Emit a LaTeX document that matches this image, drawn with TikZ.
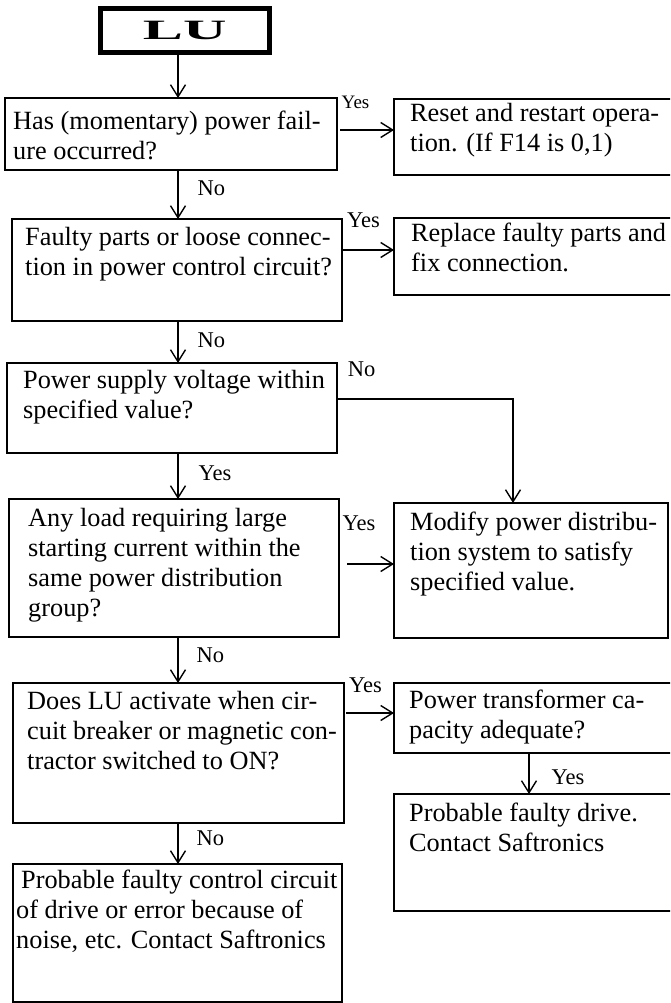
\documentclass[tikz,border=0pt]{standalone}
\usepackage{fontspec}
\setmainfont{Liberation Serif}
\usepackage{graphicx}
\usetikzlibrary{positioning, arrows.meta, calc}

\newcommand{\bodyfont}{\fontsize{26.3}{30}\selectfont}
\newcommand{\lblfont}{\fontsize{22.5}{25}\selectfont}
\newcommand{\smlblfont}{\fontsize{19}{21}\selectfont}

\tikzset{
  lubox/.style={
    draw, line width=5pt, minimum width=169.5pt, minimum height=43.5pt,
    inner sep=0pt, outer sep=0pt, font=\fontsize{28}{28}\selectfont\bfseries
  },
  stepbox/.style 2 args={
    draw, line width=1.5pt, minimum width=#1pt, minimum height=#2pt,
    inner sep=0pt, outer sep=0pt, anchor=north west
  },
  boxtext/.style={
    anchor=north west, align=left, inner xsep=#1pt, inner ysep=6pt,
    font=\bodyfont, execute at begin node=\strut
  },
  boxtext/.default=15,
  arr/.style={
    line width=1.4pt, -{Straight Barb[length=12pt, width=15pt]}
  },
  lbl/.style={font=\lblfont, inner sep=0pt},
  smlbl/.style={font=\smlblfont, inner sep=0pt},
}

\begin{document}
\begin{tikzpicture}[x=1pt, y=1pt]
\useasboundingbox (0,0) rectangle (670,-1003);
\clip (0,0) rectangle (670,-1003);

% ---- Start ----
\node[lubox] (lu) at (184.75,-30.75) {\scalebox{2.15}[1]{LU}};
\coordinate (trunk) at (178,0);

% ---- Left column: checks ----
\node[stepbox={332}{72},
      label={[boxtext=8, yshift=-7pt]north west:Has (momentary) power fail-\\ure occurred?}]
  (q1) at (5,-98) {};
\node[stepbox={330}{102}, below=49pt of q1.south west, anchor=north west, xshift=7pt,
      label={[boxtext=13, yshift=-2pt]north west:Faulty parts or loose connec-\\tion in power control circuit?}]
  (q2) {};
\node[stepbox={330}{90}, below=42pt of q2.south west, anchor=north west, xshift=-5pt,
      label={[boxtext=16, yshift=-1pt]north west:Power supply voltage within\\specified value?}]
  (q3) {};
\node[stepbox={330}{138}, below=46pt of q3.south west, anchor=north west, xshift=2pt,
      label={[boxtext=19, yshift=-3pt]north west:Any load requiring large\\starting current within the\\same power distribution\\group?}]
  (q4) {};
\node[stepbox={331}{140}, below=46pt of q4.south west, anchor=north west, xshift=4pt,
      label={[boxtext=14, yshift=-2pt]north west:Does LU activate when cir-\\cuit breaker or magnetic con-\\tractor switched to ON?}]
  (q5) {};
\node[stepbox={329}{138}, below=41pt of q5.south west, anchor=north west,
      label={[boxtext=3]north west:\hspace{5pt}Probable faulty control circuit\\of drive or error because of\\noise, etc. Contact Saftronics}]
  (q6) {};

% ---- Right column: actions ----
\node[stepbox={280}{76}, right=57pt of q1.north east, anchor=north west, yshift=-1pt,
      label={[boxtext=16, yshift=2pt]north west:Reset and restart opera-\\tion. (If F14 is 0,1)}]
  (r1) {};
\node[stepbox={280}{77}, right=52pt of q2.north east, anchor=north west, yshift=1pt,
      label={[boxtext=17, yshift=1pt]north west:Replace faulty parts and\\fix connection.}]
  (r2) {};
\node[stepbox={274}{135}, right=55pt of q4.north east, anchor=north west, yshift=-4pt,
      label={[boxtext=16, yshift=-3pt]north west:Modify power distribu-\\tion system to satisfy\\specified value.}]
  (r3) {};
\node[stepbox={280}{70}, right=50pt of q5.north east, anchor=north west,
      label={[boxtext=15, yshift=-1pt]north west:Power transformer ca-\\pacity adequate?}]
  (r4) {};
\node[stepbox={280}{117}, below=41pt of r4.south west, anchor=north west,
      label={[boxtext=15, yshift=-3pt]north west:Probable faulty drive.\\Contact Saftronics}]
  (r5) {};

% ---- No branches (down the trunk) ----
\draw[arr] (lu.south -| trunk) -- (q1.north -| trunk);
\draw[arr] (q1.south -| trunk) -- node[lbl, pos=0.38, right=19pt] (no1) {No} (q2.north -| trunk);
\draw[arr] (q2.south -| trunk) -- node[lbl, pos=0.45, right=19pt] (no2) {No} (q3.north -| trunk);
\draw[arr] (q3.south -| trunk) -- node[lbl, pos=0.45, right=20pt] (yes3) {Yes} (q4.north -| trunk);
\draw[arr] (q4.south -| trunk) -- node[lbl, pos=0.4, right=18pt] (no4) {No} (q5.north -| trunk);
\draw[arr] (q5.south -| trunk) -- node[lbl, pos=0.37, right=18pt] (no5) {No} (q6.north -| trunk);

% ---- Yes branches (to the right) ----
\coordinate (a1) at ([xshift=3pt, yshift=4pt]q1.east);
\draw[arr] (a1) -- (a1 -| r1.west);
\node[smlbl] (yes1) at ($(q1.north east)+(18.5,-4)$) {Yes};

\coordinate (a2) at ([yshift=20pt]q2.east);
\draw[arr] (a2) -- (a2 -| r2.west);
\node[lbl] (yes2) at ($(q2.north east)+(21.5,-1)$) {Yes};

\coordinate (a3) at ([yshift=9pt]q3.east);
\draw[arr] (a3) -| ([xshift=-18pt]r3.north);
\node[lbl] (no3) at ($(q3.north east)+(24.5,-6)$) {No};

\coordinate (a4) at ([xshift=8pt, yshift=4pt]q4.east);
\draw[arr] (a4) -- (a4 -| r3.west);
\node[lbl] (yes4) at ($(q4.north east)+(20,-24)$) {Yes};

\coordinate (a5) at ([xshift=2pt, yshift=40pt]q5.east);
\draw[arr] (a5) -- (a5 -| r4.west);
\node[lbl] (yes5) at ($(q5.north east)+(21.5,-2)$) {Yes};

\draw[arr] ([xshift=-5pt]r4.south) -- node[lbl, pos=0.6, right=22pt] (yes6) {Yes} ([xshift=-5pt]r5.north);

\end{tikzpicture}
\end{document}
